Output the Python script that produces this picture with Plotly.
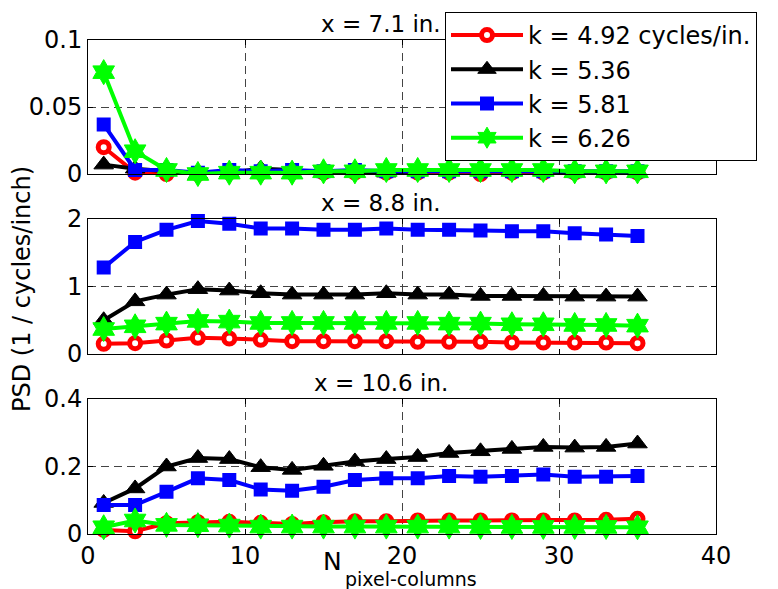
import plotly.graph_objects as go

# ---------------- data ----------------
n_cols = [1, 3, 5, 7, 9, 11, 13, 15, 17, 19, 21, 23, 25, 27, 29, 31, 33, 35]

series_names = ["k = 4.92 cycles/in.", "k = 5.36", "k = 5.81", "k = 6.26"]

# x = 7.1 in.
psd_71_k492 = [0.020, 0.001, 0.000, 0.000, 0.001, 0.001, 0.001, 0.001, 0.001,
               0.001, 0.001, 0.001, 0.000, 0.001, 0.001, 0.001, 0.001, 0.001]
psd_71_k536 = [0.007, 0.004, 0.002, 0.000, 0.001, 0.004, 0.003, 0.001, 0.001,
               0.001, 0.002, 0.002, 0.002, 0.002, 0.002, 0.001, 0.001, 0.001]
psd_71_k581 = [0.037, 0.003, 0.003, 0.001, 0.003, 0.002, 0.003, 0.002, 0.003,
               0.002, 0.002, 0.002, 0.002, 0.002, 0.002, 0.002, 0.002, 0.002]
psd_71_k626 = [0.076, 0.017, 0.003, 0.000, 0.001, 0.001, 0.001, 0.002, 0.002,
               0.003, 0.003, 0.003, 0.003, 0.003, 0.003, 0.002, 0.002, 0.002]

# x = 8.8 in.
psd_88_k492 = [0.15, 0.16, 0.20, 0.24, 0.23, 0.21, 0.19, 0.19, 0.19,
               0.19, 0.18, 0.18, 0.18, 0.17, 0.17, 0.17, 0.17, 0.16]
psd_88_k536 = [0.50, 0.78, 0.88, 0.96, 0.94, 0.90, 0.88, 0.88, 0.88,
               0.90, 0.88, 0.88, 0.86, 0.86, 0.86, 0.85, 0.85, 0.85]
psd_88_k581 = [1.28, 1.66, 1.84, 1.97, 1.93, 1.86, 1.86, 1.84, 1.84,
               1.86, 1.84, 1.84, 1.83, 1.82, 1.82, 1.79, 1.77, 1.75]
psd_88_k626 = [0.37, 0.41, 0.45, 0.49, 0.48, 0.46, 0.46, 0.46, 0.46,
               0.46, 0.46, 0.45, 0.45, 0.44, 0.44, 0.43, 0.43, 0.42]

# x = 10.6 in.
psd_106_k492 = [0.012, 0.008, 0.032, 0.035, 0.036, 0.033, 0.030, 0.035, 0.038,
                0.038, 0.040, 0.040, 0.040, 0.040, 0.040, 0.040, 0.042, 0.045]
psd_106_k536 = [0.092, 0.135, 0.200, 0.225, 0.222, 0.198, 0.190, 0.202, 0.215,
                0.222, 0.228, 0.240, 0.245, 0.252, 0.258, 0.256, 0.258, 0.268]
psd_106_k581 = [0.086, 0.086, 0.125, 0.165, 0.160, 0.132, 0.128, 0.140, 0.160,
                0.165, 0.165, 0.172, 0.170, 0.172, 0.176, 0.170, 0.170, 0.172]
psd_106_k626 = [0.020, 0.040, 0.027, 0.026, 0.025, 0.022, 0.022, 0.022, 0.022,
                0.022, 0.022, 0.022, 0.021, 0.021, 0.021, 0.021, 0.021, 0.020]

panel_titles = ["x = 7.1 in.", "x = 8.8 in.", "x = 10.6 in."]
panel_ranges = [[0, 0.1], [0, 2], [0, 0.4]]
panel_ticks = [[0, 0.05, 0.1], [0, 1, 2], [0, 0.2, 0.4]]
panel_ticktext = [["0", "0.05", "0.1"], ["0", "1", "2"], ["0", "0.2", "0.4"]]
x_ticks = [0, 10, 20, 30, 40]

panels = [
    [psd_71_k492, psd_71_k536, psd_71_k581, psd_71_k626],
    [psd_88_k492, psd_88_k536, psd_88_k581, psd_88_k626],
    [psd_106_k492, psd_106_k536, psd_106_k581, psd_106_k626],
]

# ---------------- styles ----------------
FONT = "DejaVu Sans"
colors = ["#ff0000", "#000000", "#0000ff", "#00ff00"]
markers = [
    dict(symbol="circle", size=11, color="white", line=dict(color="#ff0000", width=5)),
    dict(symbol="triangle-up", size=17, color="#000000", line=dict(color="#000000", width=1)),
    dict(symbol="square", size=12, color="#0000ff", line=dict(color="#0000ff", width=2)),
    dict(symbol="hexagram", size=19, color="#00ff00", line=dict(color="#00ff00", width=1)),
]

W, H = 778, 589
L, R, T, B = 88, 62, 40, 55
plot_h = H - T - B
def py(px):  # pixel (from top) -> paper y
    return (H - B - px) / plot_h
def px_(x):
    return (x - L) / (W - L - R)

domains = [[py(174), 1.0], [py(354), py(219)], [0.0, py(399)]]

fig = go.Figure()
for p, vals in enumerate(panels):
    axn = "" if p == 0 else str(p + 1)
    for s, yv in enumerate(vals):
        fig.add_trace(go.Scatter(
            x=n_cols, y=yv, mode="lines+markers", name=series_names[s],
            line=dict(color=colors[s], width=4), marker=markers[s],
            xaxis="x" + axn, yaxis="y" + axn, showlegend=(p == 0),
            cliponaxis=False,
        ))

axis_common = dict(
    showline=True, linecolor="black", linewidth=1, mirror="ticks",
    ticks="inside", ticklen=5, tickcolor="black",
    showgrid=True, gridcolor="#444444", griddash="8px,5px", gridwidth=1,
    zeroline=False, tickfont=dict(family=FONT, size=24, color="black"),
)
layout = dict(
    width=W, height=H, margin=dict(l=L, r=R, t=T, b=B, autoexpand=False),
    paper_bgcolor="white", plot_bgcolor="white",
    font=dict(family=FONT, color="black"),
)
for p in range(3):
    axn = "" if p == 0 else str(p + 1)
    layout["xaxis" + axn] = dict(
        axis_common, range=[0, 40], tickvals=x_ticks,
        showticklabels=(p == 2), anchor="y" + axn,
        **({} if p == 0 else {"matches": "x"}),
    )
    layout["yaxis" + axn] = dict(
        axis_common, range=panel_ranges[p], tickvals=panel_ticks[p],
        ticktext=panel_ticktext[p], domain=domains[p], anchor="x" + axn,
    )

fig.update_layout(**layout)

fig.update_layout(legend=dict(
    x=px_(445), y=py(12), xanchor="left", yanchor="top",
    bgcolor="white", bordercolor="black", borderwidth=1,
    font=dict(family=FONT, size=24, color="black"),
    itemwidth=72, tracegroupgap=0,
))

title_y = [py(24), py(203), py(383)]
for p in range(3):
    fig.add_annotation(text=panel_titles[p], xref="paper", yref="paper",
                       x=px_(380.5), y=title_y[p], xanchor="center", yanchor="middle",
                       showarrow=False, font=dict(family=FONT, size=23, color="black"))

fig.add_annotation(text="PSD (1 / cycles/inch)", xref="paper", yref="paper",
                   x=px_(22), y=py(289), xanchor="center", yanchor="middle",
                   textangle=-90, showarrow=False,
                   font=dict(family=FONT, size=24, color="black"))
fig.add_annotation(text="N", xref="paper", yref="paper",
                   x=px_(332), y=py(561), xanchor="center", yanchor="middle",
                   showarrow=False, font=dict(family=FONT, size=25, color="black"))
fig.add_annotation(text="pixel-columns", xref="paper", yref="paper",
                   x=px_(343), y=py(579), xanchor="left", yanchor="middle",
                   showarrow=False, font=dict(family=FONT, size=19, color="black"))

fig.write_html("out.html", config={"displayModeBar": False},
               post_script="document.body.style.margin='0px';")
